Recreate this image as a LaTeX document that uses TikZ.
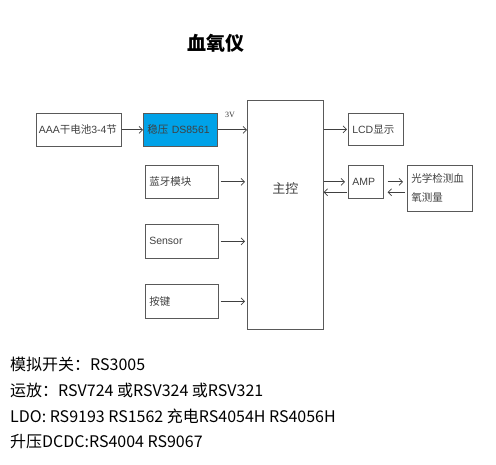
\documentclass[tikz,border=0pt]{standalone}
\usepackage{fontspec}
\setmainfont{Liberation Sans}
\newfontfamily\zh{Noto Sans CJK SC}
\newfontfamily\tnr{Liberation Serif}
\usetikzlibrary{calc,arrows.meta}
\definecolor{regblue}{RGB}{0,162,232}

\begin{document}
\begin{tikzpicture}[x=1pt, y=-1pt,
    blk/.style={draw=black!65, line width=0.6pt, anchor=north west, align=left,
        inner xsep=4pt, inner ysep=0pt, text=black!75,
        font=\fontsize{10.5}{19}\selectfont},
    link/.style={-{Straight Barb[length=3.5pt,width=7pt]}, black!75, line width=0.7pt}]
    \useasboundingbox (0,0) rectangle (496,464);
    % title
    \node[font=\zh\bfseries\fontsize{19}{22}\selectfont] (title) at (216,43) {血氧仪};
    % power path
    \node[blk, inner xsep=2.5pt, minimum width=85pt, text width=80pt, minimum height=33pt] (bat) at (36,113)
        {AAA{\zh 干电池}3-4{\zh 节}};
    \node[blk, fill=regblue, minimum width=74pt, text width=66pt, minimum height=33pt] (reg) at (143,113)
        {{\zh 稳压} DS8561};
    \node[font=\tnr\fontsize{8}{9}\selectfont, text=black!80] (volt) at (230,115) {3V};
    % inputs
    \node[blk, minimum width=73pt, text width=65pt, minimum height=33pt] (bt) at (145,165) {\zh 蓝牙模块};
    \node[blk, minimum width=73pt, text width=65pt, minimum height=34pt] (sen) at (145,224) {Sensor};
    \node[blk, minimum width=73pt, text width=65pt, minimum height=34pt] (key) at (145,284) {\zh 按键};
    % main controller
    \node[blk, minimum width=76pt, minimum height=229pt] (mcu) at (247,100) {};
    \node[font=\zh\fontsize{13}{15}\selectfont, text=black!75] (mcutxt)
        at ($(mcu.north)!0.384!(mcu.south)$) {主控};
    % outputs
    \node[blk, minimum width=55pt, text width=47pt, minimum height=32pt] (lcd) at (348,113)
        {LCD{\zh 显示}};
    \node[blk, minimum width=35pt, text width=27pt, minimum height=33pt] (amp) at (348,165) {AMP};
    \node[blk, minimum width=65pt, text width=57pt, minimum height=46pt] (opt) at (407,165)
        {\zh 光学检测血\\\zh 氧测量};
    % connectors
    \draw[link] (bat) -- (reg);
    \draw[link] (reg.east) -- (reg.east -| mcu.west);
    \foreach \n in {bt, sen, key}
        \draw[link, shorten <=2pt, shorten >=2pt] (\n.east) -- (\n.east -| mcu.west);
    \draw[link, shorten >=1pt] (lcd.west -| mcu.east) -- (lcd.west);
    \draw[link, shorten >=3pt] (amp.west -| mcu.east) -- (amp.west);
    \draw[link, shorten <=1pt] ([yshift=-10.5pt]amp.west) -- ([yshift=-10.5pt]amp.west -| mcu.east);
    \draw[link, shorten <=4pt, shorten >=4pt] (amp.east) -- (amp.east -| opt.west);
    \draw[link, shorten <=2pt, shorten >=4pt] ([yshift=-10.5pt]amp.east -| opt.west) -- ([yshift=-10.5pt]amp.east);
    % part numbers
    \foreach \txt [count=\i] in {模拟开关：RS3005, 运放：RSV724 或RSV324 或RSV321,
            LDO: RS9193 RS1562 充电RS4054H RS4056H, 升压DCDC:RS4004 RS9067}
        \node[anchor=west, inner sep=0pt, font=\zh\fontsize{16}{18}\selectfont] (note\i)
            at (10,339+25.7*\i) {\txt};
\end{tikzpicture}
\end{document}
